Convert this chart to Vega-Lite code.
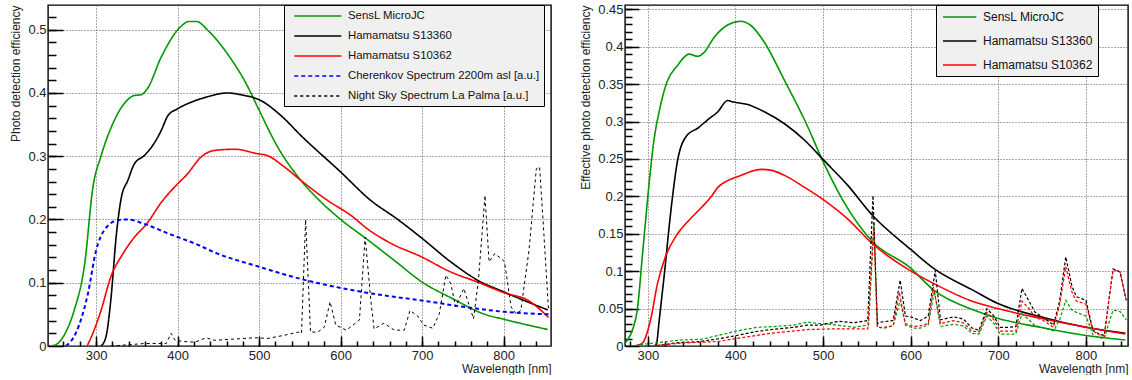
{
  "$schema": "https://vega.github.io/schema/vega-lite/v6.json",
  "padding": {"left": 9, "top": 2, "right": 0, "bottom": 0},
  "spacing": 26,
  "config": {
    "font": "Liberation Sans",
    "view": {"stroke": "#000", "strokeWidth": 1.4},
    "axis": {
      "domain": false, "labelFont": "Liberation Sans", "labelFontSize": 13, "labelColor": "#222",
      "titleFont": "Liberation Sans", "titleFontSize": 12, "titleFontWeight": "normal", "titleColor": "#222",
      "tickColor": "#000", "tickWidth": 1.5, "tickOpacity": 1, "gridColor": "#555", "gridDash": [1, 2], "gridOpacity": 1,
      "labelOverlap": false, "labelFlush": false
    },
    "legend": {
      "orient": "none", "fillColor": "#f0f0f0", "strokeColor": "#000", "labelFont": "Liberation Sans",
      "labelColor": "#111", "symbolStrokeWidth": 1.6, "symbolSize": 144, "title": null, "labelLimit": 400
    }
  },
  "datasets": {
    "left_solid": [
      {"wl":245,"pde":0,"series":"SensL MicroJC"},{"wl":253,"pde":0.004,"series":"SensL MicroJC"},{"wl":262,"pde":0.02,"series":"SensL MicroJC"},{"wl":273,"pde":0.056,"series":"SensL MicroJC"},{"wl":286,"pde":0.13,"series":"SensL MicroJC"},{"wl":296,"pde":0.25,"series":"SensL MicroJC"},{"wl":306,"pde":0.3,"series":"SensL MicroJC"},{"wl":320,"pde":0.35,"series":"SensL MicroJC"},{"wl":337,"pde":0.387,"series":"SensL MicroJC"},{"wl":347,"pde":0.396,"series":"SensL MicroJC"},{"wl":355,"pde":0.397,"series":"SensL MicroJC"},{"wl":363,"pde":0.407,"series":"SensL MicroJC"},{"wl":380,"pde":0.457,"series":"SensL MicroJC"},{"wl":404,"pde":0.505,"series":"SensL MicroJC"},{"wl":414,"pde":0.513,"series":"SensL MicroJC"},{"wl":423,"pde":0.513,"series":"SensL MicroJC"},{"wl":437,"pde":0.499,"series":"SensL MicroJC"},{"wl":461,"pde":0.462,"series":"SensL MicroJC"},{"wl":486,"pde":0.41,"series":"SensL MicroJC"},{"wl":498,"pde":0.378,"series":"SensL MicroJC"},{"wl":523,"pde":0.314,"series":"SensL MicroJC"},{"wl":551,"pde":0.262,"series":"SensL MicroJC"},{"wl":574,"pde":0.23,"series":"SensL MicroJC"},{"wl":600,"pde":0.2,"series":"SensL MicroJC"},{"wl":633,"pde":0.168,"series":"SensL MicroJC"},{"wl":666,"pde":0.135,"series":"SensL MicroJC"},{"wl":700,"pde":0.101,"series":"SensL MicroJC"},{"wl":737,"pde":0.075,"series":"SensL MicroJC"},{"wl":777,"pde":0.05,"series":"SensL MicroJC"},{"wl":801,"pde":0.042,"series":"SensL MicroJC"},{"wl":854,"pde":0.026,"series":"SensL MicroJC"},
      {"wl":306,"pde":0,"series":"Hamamatsu S13360"},{"wl":312,"pde":0.014,"series":"Hamamatsu S13360"},{"wl":318,"pde":0.072,"series":"Hamamatsu S13360"},{"wl":325,"pde":0.178,"series":"Hamamatsu S13360"},{"wl":331,"pde":0.235,"series":"Hamamatsu S13360"},{"wl":339,"pde":0.262,"series":"Hamamatsu S13360"},{"wl":347,"pde":0.288,"series":"Hamamatsu S13360"},{"wl":359,"pde":0.301,"series":"Hamamatsu S13360"},{"wl":371,"pde":0.32,"series":"Hamamatsu S13360"},{"wl":380,"pde":0.341,"series":"Hamamatsu S13360"},{"wl":388,"pde":0.364,"series":"Hamamatsu S13360"},{"wl":400,"pde":0.375,"series":"Hamamatsu S13360"},{"wl":416,"pde":0.385,"series":"Hamamatsu S13360"},{"wl":437,"pde":0.394,"series":"Hamamatsu S13360"},{"wl":461,"pde":0.4,"series":"Hamamatsu S13360"},{"wl":478,"pde":0.397,"series":"Hamamatsu S13360"},{"wl":502,"pde":0.388,"series":"Hamamatsu S13360"},{"wl":527,"pde":0.364,"series":"Hamamatsu S13360"},{"wl":551,"pde":0.333,"series":"Hamamatsu S13360"},{"wl":600,"pde":0.275,"series":"Hamamatsu S13360"},{"wl":637,"pde":0.23,"series":"Hamamatsu S13360"},{"wl":669,"pde":0.201,"series":"Hamamatsu S13360"},{"wl":700,"pde":0.17,"series":"Hamamatsu S13360"},{"wl":735,"pde":0.133,"series":"Hamamatsu S13360"},{"wl":768,"pde":0.104,"series":"Hamamatsu S13360"},{"wl":801,"pde":0.085,"series":"Hamamatsu S13360"},{"wl":854,"pde":0.057,"series":"Hamamatsu S13360"},
      {"wl":289,"pde":0,"series":"Hamamatsu S10362"},{"wl":296,"pde":0.02,"series":"Hamamatsu S10362"},{"wl":306,"pde":0.056,"series":"Hamamatsu S10362"},{"wl":318,"pde":0.109,"series":"Hamamatsu S10362"},{"wl":333,"pde":0.146,"series":"Hamamatsu S10362"},{"wl":347,"pde":0.172,"series":"Hamamatsu S10362"},{"wl":362,"pde":0.193,"series":"Hamamatsu S10362"},{"wl":380,"pde":0.227,"series":"Hamamatsu S10362"},{"wl":396,"pde":0.251,"series":"Hamamatsu S10362"},{"wl":412,"pde":0.272,"series":"Hamamatsu S10362"},{"wl":429,"pde":0.299,"series":"Hamamatsu S10362"},{"wl":445,"pde":0.309,"series":"Hamamatsu S10362"},{"wl":470,"pde":0.311,"series":"Hamamatsu S10362"},{"wl":498,"pde":0.304,"series":"Hamamatsu S10362"},{"wl":510,"pde":0.301,"series":"Hamamatsu S10362"},{"wl":531,"pde":0.283,"series":"Hamamatsu S10362"},{"wl":551,"pde":0.262,"series":"Hamamatsu S10362"},{"wl":584,"pde":0.23,"series":"Hamamatsu S10362"},{"wl":613,"pde":0.206,"series":"Hamamatsu S10362"},{"wl":633,"pde":0.185,"series":"Hamamatsu S10362"},{"wl":662,"pde":0.162,"series":"Hamamatsu S10362"},{"wl":699,"pde":0.141,"series":"Hamamatsu S10362"},{"wl":735,"pde":0.117,"series":"Hamamatsu S10362"},{"wl":768,"pde":0.101,"series":"Hamamatsu S10362"},{"wl":801,"pde":0.084,"series":"Hamamatsu S10362"},{"wl":830,"pde":0.072,"series":"Hamamatsu S10362"},{"wl":846,"pde":0.056,"series":"Hamamatsu S10362"},{"wl":855,"pde":0.045,"series":"Hamamatsu S10362"}
    ],
    "left_cherenkov": [
      {"wl":263,"pde":0,"series":"Cherenkov Spectrum 2200m asl [a.u.]"},{"wl":275,"pde":0.02,"series":"Cherenkov Spectrum 2200m asl [a.u.]"},{"wl":290,"pde":0.083,"series":"Cherenkov Spectrum 2200m asl [a.u.]"},{"wl":300,"pde":0.151,"series":"Cherenkov Spectrum 2200m asl [a.u.]"},{"wl":310,"pde":0.183,"series":"Cherenkov Spectrum 2200m asl [a.u.]"},{"wl":327,"pde":0.199,"series":"Cherenkov Spectrum 2200m asl [a.u.]"},{"wl":339,"pde":0.2,"series":"Cherenkov Spectrum 2200m asl [a.u.]"},{"wl":359,"pde":0.193,"series":"Cherenkov Spectrum 2200m asl [a.u.]"},{"wl":388,"pde":0.178,"series":"Cherenkov Spectrum 2200m asl [a.u.]"},{"wl":421,"pde":0.162,"series":"Cherenkov Spectrum 2200m asl [a.u.]"},{"wl":449,"pde":0.146,"series":"Cherenkov Spectrum 2200m asl [a.u.]"},{"wl":498,"pde":0.126,"series":"Cherenkov Spectrum 2200m asl [a.u.]"},{"wl":551,"pde":0.106,"series":"Cherenkov Spectrum 2200m asl [a.u.]"},{"wl":599,"pde":0.092,"series":"Cherenkov Spectrum 2200m asl [a.u.]"},{"wl":653,"pde":0.08,"series":"Cherenkov Spectrum 2200m asl [a.u.]"},{"wl":699,"pde":0.072,"series":"Cherenkov Spectrum 2200m asl [a.u.]"},{"wl":756,"pde":0.061,"series":"Cherenkov Spectrum 2200m asl [a.u.]"},{"wl":801,"pde":0.054,"series":"Cherenkov Spectrum 2200m asl [a.u.]"},{"wl":855,"pde":0.05,"series":"Cherenkov Spectrum 2200m asl [a.u.]"}
    ],
    "left_nsb": [
      {"wl":318,"pde":0,"series":"Night Sky Spectrum La Palma [a.u.]"},{"wl":340,"pde":0.002,"series":"Night Sky Spectrum La Palma [a.u.]"},{"wl":360,"pde":0.004,"series":"Night Sky Spectrum La Palma [a.u.]"},{"wl":375,"pde":0.004,"series":"Night Sky Spectrum La Palma [a.u.]"},{"wl":386,"pde":0.004,"series":"Night Sky Spectrum La Palma [a.u.]"},{"wl":392,"pde":0.02,"series":"Night Sky Spectrum La Palma [a.u.]"},{"wl":397,"pde":0.009,"series":"Night Sky Spectrum La Palma [a.u.]"},{"wl":408,"pde":0.007,"series":"Night Sky Spectrum La Palma [a.u.]"},{"wl":421,"pde":0.006,"series":"Night Sky Spectrum La Palma [a.u.]"},{"wl":435,"pde":0.013,"series":"Night Sky Spectrum La Palma [a.u.]"},{"wl":445,"pde":0.009,"series":"Night Sky Spectrum La Palma [a.u.]"},{"wl":470,"pde":0.011,"series":"Night Sky Spectrum La Palma [a.u.]"},{"wl":494,"pde":0.013,"series":"Night Sky Spectrum La Palma [a.u.]"},{"wl":511,"pde":0.012,"series":"Night Sky Spectrum La Palma [a.u.]"},{"wl":531,"pde":0.017,"series":"Night Sky Spectrum La Palma [a.u.]"},{"wl":548,"pde":0.022,"series":"Night Sky Spectrum La Palma [a.u.]"},{"wl":552,"pde":0.02,"series":"Night Sky Spectrum La Palma [a.u.]"},{"wl":557,"pde":0.2,"series":"Night Sky Spectrum La Palma [a.u.]"},{"wl":563,"pde":0.022,"series":"Night Sky Spectrum La Palma [a.u.]"},{"wl":572,"pde":0.022,"series":"Night Sky Spectrum La Palma [a.u.]"},{"wl":580,"pde":0.03,"series":"Night Sky Spectrum La Palma [a.u.]"},{"wl":587,"pde":0.07,"series":"Night Sky Spectrum La Palma [a.u.]"},{"wl":594,"pde":0.033,"series":"Night Sky Spectrum La Palma [a.u.]"},{"wl":607,"pde":0.025,"series":"Night Sky Spectrum La Palma [a.u.]"},{"wl":623,"pde":0.041,"series":"Night Sky Spectrum La Palma [a.u.]"},{"wl":630,"pde":0.172,"series":"Night Sky Spectrum La Palma [a.u.]"},{"wl":637,"pde":0.072,"series":"Night Sky Spectrum La Palma [a.u.]"},{"wl":641,"pde":0.027,"series":"Night Sky Spectrum La Palma [a.u.]"},{"wl":653,"pde":0.036,"series":"Night Sky Spectrum La Palma [a.u.]"},{"wl":666,"pde":0.025,"series":"Night Sky Spectrum La Palma [a.u.]"},{"wl":678,"pde":0.025,"series":"Night Sky Spectrum La Palma [a.u.]"},{"wl":685,"pde":0.056,"series":"Night Sky Spectrum La Palma [a.u.]"},{"wl":694,"pde":0.048,"series":"Night Sky Spectrum La Palma [a.u.]"},{"wl":702,"pde":0.033,"series":"Night Sky Spectrum La Palma [a.u.]"},{"wl":713,"pde":0.028,"series":"Night Sky Spectrum La Palma [a.u.]"},{"wl":721,"pde":0.051,"series":"Night Sky Spectrum La Palma [a.u.]"},{"wl":729,"pde":0.112,"series":"Night Sky Spectrum La Palma [a.u.]"},{"wl":735,"pde":0.099,"series":"Night Sky Spectrum La Palma [a.u.]"},{"wl":741,"pde":0.062,"series":"Night Sky Spectrum La Palma [a.u.]"},{"wl":751,"pde":0.091,"series":"Night Sky Spectrum La Palma [a.u.]"},{"wl":763,"pde":0.043,"series":"Night Sky Spectrum La Palma [a.u.]"},{"wl":769,"pde":0.104,"series":"Night Sky Spectrum La Palma [a.u.]"},{"wl":777,"pde":0.238,"series":"Night Sky Spectrum La Palma [a.u.]"},{"wl":782,"pde":0.133,"series":"Night Sky Spectrum La Palma [a.u.]"},{"wl":789,"pde":0.146,"series":"Night Sky Spectrum La Palma [a.u.]"},{"wl":797,"pde":0.138,"series":"Night Sky Spectrum La Palma [a.u.]"},{"wl":801,"pde":0.133,"series":"Night Sky Spectrum La Palma [a.u.]"},{"wl":809,"pde":0.062,"series":"Night Sky Spectrum La Palma [a.u.]"},{"wl":815,"pde":0.051,"series":"Night Sky Spectrum La Palma [a.u.]"},{"wl":821,"pde":0.056,"series":"Night Sky Spectrum La Palma [a.u.]"},{"wl":831,"pde":0.151,"series":"Night Sky Spectrum La Palma [a.u.]"},{"wl":840,"pde":0.28,"series":"Night Sky Spectrum La Palma [a.u.]"},{"wl":844,"pde":0.283,"series":"Night Sky Spectrum La Palma [a.u.]"},{"wl":848,"pde":0.204,"series":"Night Sky Spectrum La Palma [a.u.]"},{"wl":855,"pde":0.056,"series":"Night Sky Spectrum La Palma [a.u.]"}
    ],
    "right_solid": [
      {"wl":274,"pde":0.004,"series":"SensL MicroJC"},{"wl":277,"pde":0.008,"series":"SensL MicroJC"},{"wl":283,"pde":0.023,"series":"SensL MicroJC"},{"wl":288,"pde":0.048,"series":"SensL MicroJC"},{"wl":294,"pde":0.123,"series":"SensL MicroJC"},{"wl":300,"pde":0.199,"series":"SensL MicroJC"},{"wl":307,"pde":0.275,"series":"SensL MicroJC"},{"wl":315,"pde":0.324,"series":"SensL MicroJC"},{"wl":322,"pde":0.353,"series":"SensL MicroJC"},{"wl":334,"pde":0.375,"series":"SensL MicroJC"},{"wl":347,"pde":0.39,"series":"SensL MicroJC"},{"wl":357,"pde":0.387,"series":"SensL MicroJC"},{"wl":364,"pde":0.392,"series":"SensL MicroJC"},{"wl":376,"pde":0.413,"series":"SensL MicroJC"},{"wl":391,"pde":0.429,"series":"SensL MicroJC"},{"wl":406,"pde":0.434,"series":"SensL MicroJC"},{"wl":417,"pde":0.429,"series":"SensL MicroJC"},{"wl":433,"pde":0.406,"series":"SensL MicroJC"},{"wl":456,"pde":0.355,"series":"SensL MicroJC"},{"wl":479,"pde":0.302,"series":"SensL MicroJC"},{"wl":501,"pde":0.244,"series":"SensL MicroJC"},{"wl":522,"pde":0.196,"series":"SensL MicroJC"},{"wl":556,"pde":0.14,"series":"SensL MicroJC"},{"wl":599,"pde":0.105,"series":"SensL MicroJC"},{"wl":627,"pde":0.074,"series":"SensL MicroJC"},{"wl":672,"pde":0.048,"series":"SensL MicroJC"},{"wl":699,"pde":0.037,"series":"SensL MicroJC"},{"wl":748,"pde":0.025,"series":"SensL MicroJC"},{"wl":800,"pde":0.014,"series":"SensL MicroJC"},{"wl":845,"pde":0.008,"series":"SensL MicroJC"},
      {"wl":308,"pde":0,"series":"Hamamatsu S13360"},{"wl":310,"pde":0.003,"series":"Hamamatsu S13360"},{"wl":313,"pde":0.034,"series":"Hamamatsu S13360"},{"wl":319,"pde":0.097,"series":"Hamamatsu S13360"},{"wl":326,"pde":0.177,"series":"Hamamatsu S13360"},{"wl":334,"pde":0.248,"series":"Hamamatsu S13360"},{"wl":345,"pde":0.282,"series":"Hamamatsu S13360"},{"wl":357,"pde":0.291,"series":"Hamamatsu S13360"},{"wl":368,"pde":0.302,"series":"Hamamatsu S13360"},{"wl":380,"pde":0.313,"series":"Hamamatsu S13360"},{"wl":391,"pde":0.328,"series":"Hamamatsu S13360"},{"wl":398,"pde":0.326,"series":"Hamamatsu S13360"},{"wl":413,"pde":0.323,"series":"Hamamatsu S13360"},{"wl":433,"pde":0.313,"series":"Hamamatsu S13360"},{"wl":456,"pde":0.297,"series":"Hamamatsu S13360"},{"wl":479,"pde":0.275,"series":"Hamamatsu S13360"},{"wl":501,"pde":0.248,"series":"Hamamatsu S13360"},{"wl":528,"pde":0.215,"series":"Hamamatsu S13360"},{"wl":556,"pde":0.175,"series":"Hamamatsu S13360"},{"wl":599,"pde":0.13,"series":"Hamamatsu S13360"},{"wl":627,"pde":0.103,"series":"Hamamatsu S13360"},{"wl":672,"pde":0.074,"series":"Hamamatsu S13360"},{"wl":699,"pde":0.057,"series":"Hamamatsu S13360"},{"wl":748,"pde":0.039,"series":"Hamamatsu S13360"},{"wl":800,"pde":0.025,"series":"Hamamatsu S13360"},{"wl":845,"pde":0.017,"series":"Hamamatsu S13360"},
      {"wl":288,"pde":0.001,"series":"Hamamatsu S10362"},{"wl":294,"pde":0.004,"series":"Hamamatsu S10362"},{"wl":303,"pde":0.034,"series":"Hamamatsu S10362"},{"wl":311,"pde":0.083,"series":"Hamamatsu S10362"},{"wl":320,"pde":0.119,"series":"Hamamatsu S10362"},{"wl":334,"pde":0.15,"series":"Hamamatsu S10362"},{"wl":347,"pde":0.168,"series":"Hamamatsu S10362"},{"wl":362,"pde":0.186,"series":"Hamamatsu S10362"},{"wl":372,"pde":0.199,"series":"Hamamatsu S10362"},{"wl":380,"pde":0.212,"series":"Hamamatsu S10362"},{"wl":391,"pde":0.221,"series":"Hamamatsu S10362"},{"wl":406,"pde":0.228,"series":"Hamamatsu S10362"},{"wl":417,"pde":0.233,"series":"Hamamatsu S10362"},{"wl":429,"pde":0.236,"series":"Hamamatsu S10362"},{"wl":440,"pde":0.235,"series":"Hamamatsu S10362"},{"wl":456,"pde":0.228,"series":"Hamamatsu S10362"},{"wl":479,"pde":0.212,"series":"Hamamatsu S10362"},{"wl":501,"pde":0.195,"series":"Hamamatsu S10362"},{"wl":528,"pde":0.17,"series":"Hamamatsu S10362"},{"wl":556,"pde":0.137,"series":"Hamamatsu S10362"},{"wl":599,"pde":0.101,"series":"Hamamatsu S10362"},{"wl":627,"pde":0.083,"series":"Hamamatsu S10362"},{"wl":672,"pde":0.059,"series":"Hamamatsu S10362"},{"wl":699,"pde":0.05,"series":"Hamamatsu S10362"},{"wl":748,"pde":0.037,"series":"Hamamatsu S10362"},{"wl":800,"pde":0.025,"series":"Hamamatsu S10362"},{"wl":845,"pde":0.016,"series":"Hamamatsu S10362"}
    ],
    "right_nsb": [
      {"wl":280,"pde":0,"series":"SensL MicroJC"},{"wl":300,"pde":0.003,"series":"SensL MicroJC"},{"wl":338,"pde":0.008,"series":"SensL MicroJC"},{"wl":361,"pde":0.009,"series":"SensL MicroJC"},{"wl":380,"pde":0.014,"series":"SensL MicroJC"},{"wl":401,"pde":0.02,"series":"SensL MicroJC"},{"wl":425,"pde":0.025,"series":"SensL MicroJC"},{"wl":444,"pde":0.026,"series":"SensL MicroJC"},{"wl":467,"pde":0.028,"series":"SensL MicroJC"},{"wl":482,"pde":0.032,"series":"SensL MicroJC"},{"wl":497,"pde":0.03,"series":"SensL MicroJC"},{"wl":516,"pde":0.028,"series":"SensL MicroJC"},{"wl":535,"pde":0.025,"series":"SensL MicroJC"},{"wl":552,"pde":0.028,"series":"SensL MicroJC"},{"wl":558,"pde":0.165,"series":"SensL MicroJC"},{"wl":562,"pde":0.025,"series":"SensL MicroJC"},{"wl":570,"pde":0.024,"series":"SensL MicroJC"},{"wl":580,"pde":0.027,"series":"SensL MicroJC"},{"wl":588,"pde":0.061,"series":"SensL MicroJC"},{"wl":594,"pde":0.028,"series":"SensL MicroJC"},{"wl":603,"pde":0.024,"series":"SensL MicroJC"},{"wl":611,"pde":0.024,"series":"SensL MicroJC"},{"wl":620,"pde":0.028,"series":"SensL MicroJC"},{"wl":627,"pde":0.073,"series":"SensL MicroJC"},{"wl":634,"pde":0.026,"series":"SensL MicroJC"},{"wl":649,"pde":0.029,"series":"SensL MicroJC"},{"wl":660,"pde":0.027,"series":"SensL MicroJC"},{"wl":670,"pde":0.017,"series":"SensL MicroJC"},{"wl":678,"pde":0.016,"series":"SensL MicroJC"},{"wl":687,"pde":0.04,"series":"SensL MicroJC"},{"wl":695,"pde":0.03,"series":"SensL MicroJC"},{"wl":702,"pde":0.016,"series":"SensL MicroJC"},{"wl":712,"pde":0.016,"series":"SensL MicroJC"},{"wl":720,"pde":0.016,"series":"SensL MicroJC"},{"wl":727,"pde":0.043,"series":"SensL MicroJC"},{"wl":735,"pde":0.035,"series":"SensL MicroJC"},{"wl":742,"pde":0.027,"series":"SensL MicroJC"},{"wl":750,"pde":0.025,"series":"SensL MicroJC"},{"wl":763,"pde":0.02,"series":"SensL MicroJC"},{"wl":770,"pde":0.035,"series":"SensL MicroJC"},{"wl":777,"pde":0.061,"series":"SensL MicroJC"},{"wl":784,"pde":0.048,"series":"SensL MicroJC"},{"wl":789,"pde":0.045,"series":"SensL MicroJC"},{"wl":800,"pde":0.04,"series":"SensL MicroJC"},{"wl":808,"pde":0.015,"series":"SensL MicroJC"},{"wl":815,"pde":0.011,"series":"SensL MicroJC"},{"wl":821,"pde":0.01,"series":"SensL MicroJC"},{"wl":826,"pde":0.03,"series":"SensL MicroJC"},{"wl":831,"pde":0.048,"series":"SensL MicroJC"},{"wl":839,"pde":0.046,"series":"SensL MicroJC"},{"wl":846,"pde":0.035,"series":"SensL MicroJC"},
      {"wl":310,"pde":0,"series":"Hamamatsu S13360"},{"wl":330,"pde":0.004,"series":"Hamamatsu S13360"},{"wl":360,"pde":0.006,"series":"Hamamatsu S13360"},{"wl":383,"pde":0.01,"series":"Hamamatsu S13360"},{"wl":401,"pde":0.014,"series":"Hamamatsu S13360"},{"wl":422,"pde":0.019,"series":"Hamamatsu S13360"},{"wl":440,"pde":0.022,"series":"Hamamatsu S13360"},{"wl":467,"pde":0.025,"series":"Hamamatsu S13360"},{"wl":482,"pde":0.028,"series":"Hamamatsu S13360"},{"wl":497,"pde":0.028,"series":"Hamamatsu S13360"},{"wl":518,"pde":0.033,"series":"Hamamatsu S13360"},{"wl":535,"pde":0.031,"series":"Hamamatsu S13360"},{"wl":551,"pde":0.034,"series":"Hamamatsu S13360"},{"wl":557,"pde":0.201,"series":"Hamamatsu S13360"},{"wl":562,"pde":0.03,"series":"Hamamatsu S13360"},{"wl":566,"pde":0.032,"series":"Hamamatsu S13360"},{"wl":580,"pde":0.034,"series":"Hamamatsu S13360"},{"wl":588,"pde":0.088,"series":"Hamamatsu S13360"},{"wl":594,"pde":0.04,"series":"Hamamatsu S13360"},{"wl":600,"pde":0.039,"series":"Hamamatsu S13360"},{"wl":611,"pde":0.034,"series":"Hamamatsu S13360"},{"wl":620,"pde":0.04,"series":"Hamamatsu S13360"},{"wl":628,"pde":0.101,"series":"Hamamatsu S13360"},{"wl":634,"pde":0.035,"series":"Hamamatsu S13360"},{"wl":649,"pde":0.039,"series":"Hamamatsu S13360"},{"wl":660,"pde":0.036,"series":"Hamamatsu S13360"},{"wl":670,"pde":0.024,"series":"Hamamatsu S13360"},{"wl":678,"pde":0.021,"series":"Hamamatsu S13360"},{"wl":687,"pde":0.05,"series":"Hamamatsu S13360"},{"wl":695,"pde":0.04,"series":"Hamamatsu S13360"},{"wl":702,"pde":0.025,"series":"Hamamatsu S13360"},{"wl":712,"pde":0.025,"series":"Hamamatsu S13360"},{"wl":720,"pde":0.026,"series":"Hamamatsu S13360"},{"wl":727,"pde":0.077,"series":"Hamamatsu S13360"},{"wl":735,"pde":0.06,"series":"Hamamatsu S13360"},{"wl":742,"pde":0.045,"series":"Hamamatsu S13360"},{"wl":750,"pde":0.039,"series":"Hamamatsu S13360"},{"wl":763,"pde":0.028,"series":"Hamamatsu S13360"},{"wl":770,"pde":0.06,"series":"Hamamatsu S13360"},{"wl":777,"pde":0.119,"series":"Hamamatsu S13360"},{"wl":784,"pde":0.08,"series":"Hamamatsu S13360"},{"wl":789,"pde":0.066,"series":"Hamamatsu S13360"},{"wl":800,"pde":0.061,"series":"Hamamatsu S13360"},{"wl":808,"pde":0.021,"series":"Hamamatsu S13360"},{"wl":815,"pde":0.016,"series":"Hamamatsu S13360"},{"wl":821,"pde":0.014,"series":"Hamamatsu S13360"},{"wl":826,"pde":0.06,"series":"Hamamatsu S13360"},{"wl":831,"pde":0.103,"series":"Hamamatsu S13360"},{"wl":839,"pde":0.099,"series":"Hamamatsu S13360"},{"wl":846,"pde":0.061,"series":"Hamamatsu S13360"},
      {"wl":300,"pde":0,"series":"Hamamatsu S10362"},{"wl":340,"pde":0.004,"series":"Hamamatsu S10362"},{"wl":380,"pde":0.006,"series":"Hamamatsu S10362"},{"wl":401,"pde":0.01,"series":"Hamamatsu S10362"},{"wl":440,"pde":0.017,"series":"Hamamatsu S10362"},{"wl":482,"pde":0.022,"series":"Hamamatsu S10362"},{"wl":516,"pde":0.023,"series":"Hamamatsu S10362"},{"wl":551,"pde":0.023,"series":"Hamamatsu S10362"},{"wl":558,"pde":0.159,"series":"Hamamatsu S10362"},{"wl":562,"pde":0.025,"series":"Hamamatsu S10362"},{"wl":570,"pde":0.025,"series":"Hamamatsu S10362"},{"wl":580,"pde":0.027,"series":"Hamamatsu S10362"},{"wl":587,"pde":0.072,"series":"Hamamatsu S10362"},{"wl":594,"pde":0.03,"series":"Hamamatsu S10362"},{"wl":603,"pde":0.026,"series":"Hamamatsu S10362"},{"wl":611,"pde":0.027,"series":"Hamamatsu S10362"},{"wl":620,"pde":0.03,"series":"Hamamatsu S10362"},{"wl":626,"pde":0.079,"series":"Hamamatsu S10362"},{"wl":634,"pde":0.03,"series":"Hamamatsu S10362"},{"wl":649,"pde":0.034,"series":"Hamamatsu S10362"},{"wl":660,"pde":0.031,"series":"Hamamatsu S10362"},{"wl":670,"pde":0.02,"series":"Hamamatsu S10362"},{"wl":678,"pde":0.019,"series":"Hamamatsu S10362"},{"wl":687,"pde":0.045,"series":"Hamamatsu S10362"},{"wl":695,"pde":0.035,"series":"Hamamatsu S10362"},{"wl":702,"pde":0.02,"series":"Hamamatsu S10362"},{"wl":712,"pde":0.02,"series":"Hamamatsu S10362"},{"wl":720,"pde":0.02,"series":"Hamamatsu S10362"},{"wl":727,"pde":0.06,"series":"Hamamatsu S10362"},{"wl":735,"pde":0.05,"series":"Hamamatsu S10362"},{"wl":742,"pde":0.038,"series":"Hamamatsu S10362"},{"wl":750,"pde":0.035,"series":"Hamamatsu S10362"},{"wl":763,"pde":0.025,"series":"Hamamatsu S10362"},{"wl":770,"pde":0.055,"series":"Hamamatsu S10362"},{"wl":777,"pde":0.106,"series":"Hamamatsu S10362"},{"wl":784,"pde":0.072,"series":"Hamamatsu S10362"},{"wl":789,"pde":0.06,"series":"Hamamatsu S10362"},{"wl":800,"pde":0.056,"series":"Hamamatsu S10362"},{"wl":808,"pde":0.02,"series":"Hamamatsu S10362"},{"wl":815,"pde":0.015,"series":"Hamamatsu S10362"},{"wl":821,"pde":0.013,"series":"Hamamatsu S10362"},{"wl":826,"pde":0.06,"series":"Hamamatsu S10362"},{"wl":831,"pde":0.102,"series":"Hamamatsu S10362"},{"wl":839,"pde":0.099,"series":"Hamamatsu S10362"},{"wl":846,"pde":0.061,"series":"Hamamatsu S10362"}
    ]
  },
  "resolve": {"scale": {"color": "independent", "strokeDash": "independent"}},
  "hconcat": [
    {
      "width": 503, "height": 341,
      "resolve": {"axis": {"x": "independent", "y": "independent"}},
      "layer": [
        {
          "data": {"name": "left_solid"},
          "mark": {"type": "line", "interpolate": "monotone", "strokeWidth": 1.6, "clip": true},
          "encoding": {
            "x": {"field": "wl", "type": "quantitative", "scale": {"domain": [241, 858], "nice": false, "zero": false},
              "axis": {"orient": "bottom", "values": [300, 400, 500, 600, 700, 800], "format": "d", "tickSize": -10, "labelPadding": 13, "title": "Wavelength [nm]", "titleAnchor": "end", "titlePadding": 1, "grid": true}},
            "y": {"field": "pde", "type": "quantitative", "scale": {"domain": [0, 0.539], "nice": false, "zero": false},
              "axis": {"orient": "left", "values": [0, 0.1, 0.2, 0.3, 0.4, 0.5], "format": "~g", "tickSize": -15, "labelPadding": 17, "title": "Photo detection efficiency", "titleAnchor": "end", "titlePadding": 5, "grid": true}},
            "color": {"field": "series", "type": "nominal",
              "scale": {"domain": ["SensL MicroJC", "Hamamatsu S13360", "Hamamatsu S10362", "Cherenkov Spectrum 2200m asl [a.u.]", "Night Sky Spectrum La Palma [a.u.]"], "range": ["#009900", "#000000", "#ff0000", "#0000ff", "#000000"]},
              "legend": {"legendX": 236, "legendY": 0, "padding": 4, "labelFontSize": 11.4, "labelOffset": 46, "rowPadding": 7, "symbolType": "M-0.12,0H7.72"}},
            "strokeDash": {"field": "series", "type": "nominal",
              "scale": {"domain": ["SensL MicroJC", "Hamamatsu S13360", "Hamamatsu S10362", "Cherenkov Spectrum 2200m asl [a.u.]", "Night Sky Spectrum La Palma [a.u.]"], "range": [[1, 0], [1, 0], [1, 0], [4, 3], [3, 3]]}}
          }
        },
        {
          "data": {"name": "left_cherenkov"},
          "mark": {"type": "line", "interpolate": "monotone", "strokeWidth": 2, "clip": true},
          "encoding": {
            "x": {"field": "wl", "type": "quantitative", "axis": {"orient": "bottom", "values": [260, 280, 300, 320, 340, 360, 380, 400, 420, 440, 460, 480, 500, 520, 540, 560, 580, 600, 620, 640, 660, 680, 700, 720, 740, 760, 780, 800, 820, 840], "tickSize": -5, "labels": false, "grid": false, "title": null}},
            "y": {"field": "pde", "type": "quantitative", "axis": {"orient": "left", "values": [0.02, 0.04, 0.06, 0.08, 0.1, 0.12, 0.14, 0.16, 0.18, 0.2, 0.22, 0.24, 0.26, 0.28, 0.3, 0.32, 0.34, 0.36, 0.38, 0.4, 0.42, 0.44, 0.46, 0.48, 0.5, 0.52], "tickSize": -8, "labels": false, "grid": false, "title": null}},
            "color": {"field": "series", "type": "nominal"},
            "strokeDash": {"field": "series", "type": "nominal"}
          }
        },
        {
          "data": {"name": "left_nsb"},
          "mark": {"type": "line", "strokeWidth": 1, "clip": true},
          "encoding": {
            "x": {"field": "wl", "type": "quantitative", "axis": null},
            "y": {"field": "pde", "type": "quantitative", "axis": null},
            "color": {"field": "series", "type": "nominal"},
            "strokeDash": {"field": "series", "type": "nominal"}
          }
        }
      ]
    },
    {
      "width": 503, "height": 341,
      "resolve": {"axis": {"x": "independent", "y": "independent"}},
      "layer": [
        {
          "data": {"name": "right_solid"},
          "mark": {"type": "line", "interpolate": "monotone", "strokeWidth": 1.6, "clip": true},
          "encoding": {
            "x": {"field": "wl", "type": "quantitative", "scale": {"domain": [274, 848], "nice": false, "zero": false},
              "axis": {"orient": "bottom", "values": [300, 400, 500, 600, 700, 800], "format": "d", "tickSize": -10, "labelPadding": 13, "title": "Wavelength [nm]", "titleAnchor": "end", "titlePadding": 1, "grid": true}},
            "y": {"field": "pde", "type": "quantitative", "scale": {"domain": [0, 0.4557], "nice": false, "zero": false},
              "axis": {"orient": "left", "values": [0, 0.05, 0.1, 0.15, 0.2, 0.25, 0.3, 0.35, 0.4, 0.45], "format": "~g", "tickSize": -14, "labelPadding": 16, "title": "Effective photo detection efficiency", "titleAnchor": "end", "titlePadding": 5, "grid": true}},
            "color": {"field": "series", "type": "nominal",
              "scale": {"domain": ["SensL MicroJC", "Hamamatsu S13360", "Hamamatsu S10362"], "range": ["#009900", "#000000", "#ff0000"]},
              "legend": {"legendX": 311, "legendY": 0, "padding": 5, "labelFontSize": 12, "labelOffset": 28, "rowPadding": 11, "symbolType": "M-0.83,0H4.72"}}
          }
        },
        {
          "data": {"name": "right_nsb"},
          "mark": {"type": "line", "strokeWidth": 1.2, "strokeDash": [3, 2], "clip": true},
          "encoding": {
            "x": {"field": "wl", "type": "quantitative", "axis": {"orient": "bottom", "values": [280, 300, 320, 340, 360, 380, 400, 420, 440, 460, 480, 500, 520, 540, 560, 580, 600, 620, 640, 660, 680, 700, 720, 740, 760, 780, 800, 820, 840], "tickSize": -5, "labels": false, "grid": false, "title": null}},
            "y": {"field": "pde", "type": "quantitative", "axis": {"orient": "left", "values": [0.01, 0.02, 0.03, 0.04, 0.05, 0.06, 0.07, 0.08, 0.09, 0.1, 0.11, 0.12, 0.13, 0.14, 0.15, 0.16, 0.17, 0.18, 0.19, 0.2, 0.21, 0.22, 0.23, 0.24, 0.25, 0.26, 0.27, 0.28, 0.29, 0.3, 0.31, 0.32, 0.33, 0.34, 0.35, 0.36, 0.37, 0.38, 0.39, 0.4, 0.41, 0.42, 0.43, 0.44, 0.45], "tickSize": -7, "labels": false, "grid": false, "title": null}},
            "color": {"field": "series", "type": "nominal", "legend": null}
          }
        }
      ]
    }
  ]
}
